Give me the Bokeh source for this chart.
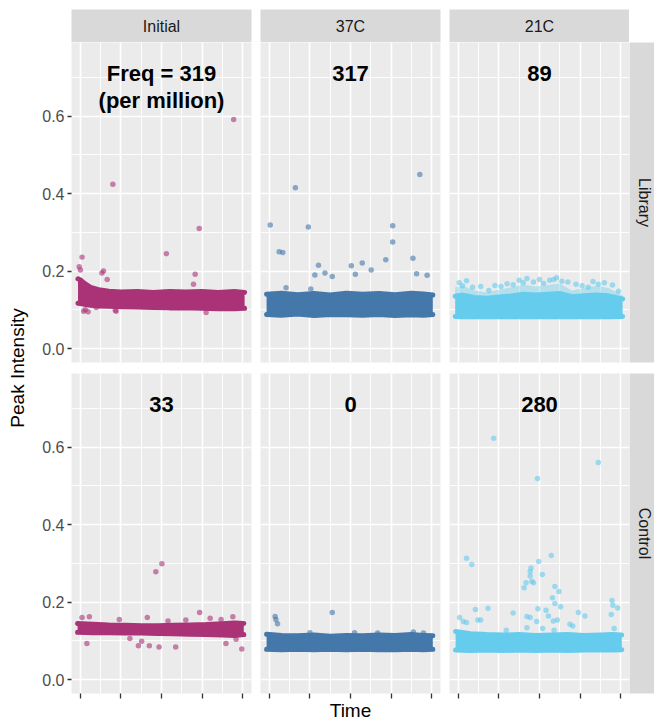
import math
from bokeh.plotting import figure
from bokeh.layouts import row, column, Spacer
from bokeh.models import Range1d, FixedTicker, Title, PrintfTickFormatter
from bokeh.core.properties import value
from bokeh.embed import file_html
from bokeh.resources import INLINE

# ---------------- data ----------------
conditions = ["Initial", "37C", "21C"]
samples = ["Library", "Control"]
cond_colors = ["#AA3377", "#4477AA", "#66CCEE"]

freq_text = [["Freq = 319\n(per million)", "317", "89"],
             ["33", "0", "280"]]
freq_x = 2.0
freq_y = 0.71

y_ticks = [0.0, 0.2, 0.4, 0.6]
y_minor = [0.1, 0.3, 0.5, 0.7]
x_ticks = [0, 1, 2, 3, 4]
x_minor = [0.5, 1.5, 2.5, 3.5]

# dense band envelopes (centre of the outermost points)
lib_init_x = [-0.06, 0.0, 0.1, 0.25, 0.45, 0.7, 1.0, 1.4, 1.8, 2.2, 2.6, 3.0, 3.4, 3.8, 4.05]
lib_init_hi = [0.180, 0.177, 0.168, 0.158, 0.152, 0.148, 0.146, 0.147, 0.145, 0.147, 0.146, 0.147, 0.145, 0.147, 0.145]
lib_init_lo = [0.117, 0.116, 0.114, 0.112, 0.110, 0.109, 0.108, 0.107, 0.106, 0.105, 0.105, 0.104, 0.103, 0.103, 0.104]

lib_37_x = [-0.07, 0.3, 0.7, 1.1, 1.5, 1.9, 2.3, 2.7, 3.1, 3.5, 3.8, 4.03]
lib_37_hi = [0.140, 0.143, 0.139, 0.142, 0.138, 0.143, 0.140, 0.142, 0.139, 0.143, 0.141, 0.138]
lib_37_lo = [0.088, 0.086, 0.089, 0.085, 0.088, 0.087, 0.086, 0.088, 0.085, 0.087, 0.086, 0.088]

lib_21_x = [-0.08, 0.1, 0.4, 0.7, 1.0, 1.3, 1.6, 1.9, 2.2, 2.5, 2.8, 3.1, 3.4, 3.7, 4.05]
lib_21_fringe = [0.158, 0.162, 0.150, 0.145, 0.152, 0.158, 0.165, 0.160, 0.164, 0.168, 0.150, 0.156, 0.162, 0.156, 0.138]
lib_21_hi = [0.135, 0.138, 0.132, 0.130, 0.133, 0.136, 0.140, 0.138, 0.140, 0.142, 0.134, 0.136, 0.138, 0.136, 0.128]
lib_21_lo = [0.083, 0.082, 0.082, 0.082, 0.082, 0.082, 0.082, 0.082, 0.082, 0.082, 0.082, 0.082, 0.082, 0.082, 0.083]

ctl_init_x = [-0.07, 0.3, 0.7, 1.1, 1.5, 1.9, 2.3, 2.7, 3.1, 3.5, 3.8, 4.03]
ctl_init_hi = [0.145, 0.143, 0.141, 0.140, 0.139, 0.139, 0.140, 0.141, 0.142, 0.144, 0.146, 0.145]
ctl_init_lo = [0.122, 0.121, 0.121, 0.120, 0.120, 0.119, 0.118, 0.117, 0.116, 0.115, 0.114, 0.116]

ctl_37_x = [-0.07, 0.3, 0.7, 1.1, 1.5, 1.9, 2.3, 2.7, 3.1, 3.5, 3.8, 4.03]
ctl_37_hi = [0.117, 0.114, 0.113, 0.115, 0.112, 0.114, 0.113, 0.115, 0.114, 0.116, 0.114, 0.113]
ctl_37_lo = [0.078, 0.077, 0.078, 0.077, 0.078, 0.077, 0.078, 0.077, 0.077, 0.078, 0.077, 0.078]

ctl_21_x = [-0.07, 0.3, 0.7, 1.1, 1.5, 1.9, 2.3, 2.7, 3.1, 3.5, 3.8, 4.03]
ctl_21_hi = [0.124, 0.118, 0.116, 0.115, 0.116, 0.114, 0.115, 0.116, 0.114, 0.115, 0.116, 0.115]
ctl_21_lo = [0.076, 0.075, 0.076, 0.075, 0.076, 0.075, 0.076, 0.075, 0.076, 0.077, 0.076, 0.077]

# individual points outside the dense band
lib_init_pt_x = [3.78, 0.80, 2.93, 2.12, 2.83, 2.79, 0.04, -0.03, 0.0, 0.53, 0.57, 0.66, 0.12, 0.19, 0.86, 0.08, 0.39, 0.88, 3.10]
lib_init_pt_y = [0.591, 0.424, 0.310, 0.245, 0.192, 0.166, 0.236, 0.211, 0.203, 0.195, 0.200, 0.178, 0.100, 0.095, 0.099, 0.096, 0.106, 0.096, 0.093]

lib_37_pt_x = [0.64, 3.71, 0.02, 0.96, 0.24, 0.33, 3.04, 3.04, 1.21, 1.12, 1.37, 1.55, 2.02, 2.12, 2.29, 2.51, 2.87, 3.54, 3.63, 3.89, 0.41, 1.02]
lib_37_pt_y = [0.415, 0.449, 0.319, 0.314, 0.250, 0.248, 0.317, 0.275, 0.215, 0.190, 0.195, 0.186, 0.214, 0.192, 0.221, 0.203, 0.229, 0.233, 0.193, 0.189, 0.157, 0.154]

lib_21_pt_x = [0.20, 1.69, 2.42, 1.20, 3.32, 0.02, 1.50, 2.90, 3.60, 3.95, 2.00, 0.90, 2.70, 0.55, 2.25,
               0.35, 0.75, 1.05, 1.35, 1.85, 2.10, 2.55, 3.05, 3.45, 3.80, 0.10, 1.60, 2.35, 3.20]
lib_21_pt_y = [0.175, 0.181, 0.183, 0.167, 0.173, 0.170, 0.176, 0.166, 0.170, 0.148, 0.178, 0.163, 0.172, 0.160, 0.176,
               0.158, 0.150, 0.160, 0.165, 0.172, 0.168, 0.174, 0.162, 0.166, 0.164, 0.162, 0.170, 0.178, 0.158]

ctl_init_pt_x = [1.86, 2.01, 2.94, 0.04, 0.22, 0.96, 1.65, 2.16, 0.16, 1.43, 1.70, 1.94, 2.35, 1.51, 3.59, 3.98, 3.76, 3.47, 3.84, 1.22, 3.20, 2.60]
ctl_init_pt_y = [0.278, 0.299, 0.173, 0.160, 0.162, 0.155, 0.160, 0.151, 0.093, 0.087, 0.087, 0.084, 0.084, 0.099, 0.093, 0.079, 0.162, 0.155, 0.104, 0.106, 0.158, 0.154]

ctl_37_pt_x = [1.55, 0.14, 0.16, 0.20, 2.67, 3.55, 3.80, 1.00, 2.10]
ctl_37_pt_y = [0.173, 0.163, 0.155, 0.144, 0.120, 0.123, 0.120, 0.121, 0.121]

ctl_21_pt_x = [0.87, 3.45, 1.95, 0.20, 0.33, 2.29, 1.98, 1.79, 1.77, 2.07, 1.77, 1.67, 1.81, 1.85, 1.62, 2.38, 2.48,
               2.32, 2.38, 2.52, 3.79, 3.81, 3.93, 3.77, 3.84, 0.42, 0.73, 1.35, 1.69, 1.77, 1.96, 2.16, 1.93, 2.22,
               2.34, 2.44, 2.96, 3.12, 0.03, 0.12, 0.20, 0.48, 0.55, 2.75, 2.82, 2.08, 2.36, 1.18, 1.69]
ctl_21_pt_y = [0.623, 0.560, 0.519, 0.313, 0.297, 0.320, 0.305, 0.288, 0.279, 0.271, 0.267, 0.250, 0.254, 0.250, 0.237,
               0.240, 0.227, 0.211, 0.196, 0.188, 0.204, 0.192, 0.185, 0.168, 0.132, 0.181, 0.184, 0.172, 0.163, 0.160,
               0.183, 0.179, 0.150, 0.164, 0.151, 0.154, 0.173, 0.164, 0.160, 0.150, 0.147, 0.154, 0.154, 0.143, 0.138,
               0.132, 0.127, 0.127, 0.134]

bands = [
    [(lib_init_x, lib_init_lo, lib_init_hi, None), (lib_37_x, lib_37_lo, lib_37_hi, None), (lib_21_x, lib_21_lo, lib_21_hi, lib_21_fringe)],
    [(ctl_init_x, ctl_init_lo, ctl_init_hi, None), (ctl_37_x, ctl_37_lo, ctl_37_hi, None), (ctl_21_x, ctl_21_lo, ctl_21_hi, None)],
]
points = [
    [(lib_init_pt_x, lib_init_pt_y), (lib_37_pt_x, lib_37_pt_y), (lib_21_pt_x, lib_21_pt_y)],
    [(ctl_init_pt_x, ctl_init_pt_y), (ctl_37_pt_x, ctl_37_pt_y), (ctl_21_pt_x, ctl_21_pt_y)],
]

# ---------------- styling / layout ----------------
FONT = "Liberation Sans"
PANEL_BG = "#EBEBEB"
STRIP_BG = "#D9D9D9"
FW, FH = 180, 320
LEFT = [35, 5, 5]
RIGHT = [4, 4, 0]
TOP = [0, 6]
BOTTOM = [5, 26]


def base_fig(**kw):
    return figure(output_backend="svg", toolbar_location=None, **kw)


def make_panel(ri, ci):
    p = base_fig(frame_width=FW, frame_height=FH,
                 x_range=Range1d(-0.22, 4.22), y_range=Range1d(-0.036, 0.79),
                 min_border_left=LEFT[ci], min_border_right=RIGHT[ci],
                 min_border_top=TOP[ri], min_border_bottom=BOTTOM[ri],
                 x_axis_location="below" if ri == 1 else None,
                 y_axis_location="left" if ci == 0 else None)
    p.background_fill_color = PANEL_BG
    p.border_fill_color = "white"
    p.outline_line_color = None
    p.xgrid.ticker = FixedTicker(ticks=x_ticks, minor_ticks=x_minor)
    p.ygrid.ticker = FixedTicker(ticks=y_ticks, minor_ticks=y_minor)
    for g in (p.xgrid, p.ygrid):
        g.grid_line_color = "white"
        g.grid_line_width = 1.6
        g.minor_grid_line_color = "white"
        g.minor_grid_line_width = 0.9
    if ci == 0:
        ax = p.yaxis[0]
        ax.ticker = FixedTicker(ticks=y_ticks)
        ax.formatter = PrintfTickFormatter(format="%.1f")
        ax.major_label_text_font = FONT
        ax.major_label_text_font_size = "16px"
        ax.major_label_text_color = "#4D4D4D"
        ax.major_tick_out = 4
        ax.major_tick_in = 0
        ax.major_tick_line_color = "#333333"
        ax.major_tick_line_width = 1.3
        ax.minor_tick_line_color = None
        ax.axis_line_color = None
        ax.major_label_standoff = 3
    if ri == 1:
        ax = p.xaxis[0]
        ax.ticker = FixedTicker(ticks=x_ticks)
        ax.major_label_text_font_size = "1px"
        ax.major_label_text_color = None
        ax.major_label_standoff = 0
        ax.major_tick_out = 5
        ax.major_tick_in = 0
        ax.major_tick_line_color = "#333333"
        ax.major_tick_line_width = 1.3
        ax.minor_tick_line_color = None
        ax.axis_line_color = None
        if ci == 1:
            ax.axis_label = "Time"
            ax.axis_label_text_font = FONT
            ax.axis_label_text_font_size = "19px"
            ax.axis_label_text_font_style = "normal"
            ax.axis_label_text_color = "black"
            ax.axis_label_standoff = 1

    col = cond_colors[ci]
    bx, lo, hi, fringe = bands[ri][ci]
    if fringe is not None:
        p.varea(x=bx, y1=hi, y2=fringe, fill_color=col, fill_alpha=0.4)
    p.varea(x=bx, y1=lo, y2=hi, fill_color=col, fill_alpha=1.0)
    p.line(bx, hi, line_color=col, line_width=5, line_join="round", line_cap="round")
    p.line(bx, lo, line_color=col, line_width=5, line_join="round", line_cap="round")
    px, py = points[ri][ci]
    p.scatter(px, py, size=5.5, fill_color=col, fill_alpha=0.6, line_color=None)

    lines = freq_text[ri][ci].split("\n")
    for k, txt in enumerate(lines):
        p.text(x=[freq_x], y=[freq_y], text=[txt], y_offset=27 * k, text_align="center", text_baseline="middle",
               text_font=value(FONT), text_font_size="22px", text_font_style="bold", text_color="black")
    return p


def strip_top(ci):
    s = base_fig(frame_width=FW, frame_height=33, x_range=Range1d(0, 1), y_range=Range1d(0, 1),
                 min_border_left=LEFT[ci], min_border_right=RIGHT[ci], min_border_top=9, min_border_bottom=0,
                 x_axis_location=None, y_axis_location=None)
    s.grid.visible = False
    s.background_fill_color = STRIP_BG
    s.border_fill_color = "white"
    s.outline_line_color = None
    s.text(x=[0.5], y=[0.5], text=[conditions[ci]], text_align="center", text_baseline="middle",
           text_font=value(FONT), text_font_size="16px", text_color="#1A1A1A")
    return s


def strip_right(ri):
    s = base_fig(frame_width=25, frame_height=FH, x_range=Range1d(0, 1), y_range=Range1d(0, 1),
                 min_border_left=0, min_border_right=0, min_border_top=TOP[ri], min_border_bottom=BOTTOM[ri],
                 x_axis_location=None, y_axis_location=None)
    s.grid.visible = False
    s.background_fill_color = STRIP_BG
    s.border_fill_color = "white"
    s.outline_line_color = None
    s.text(x=[0.6], y=[0.5], text=[samples[ri]], text_align="center", text_baseline="middle",
           angle=-math.pi / 2, text_font=value(FONT), text_font_size="16px", text_color="#1A1A1A")
    return s


lab = base_fig(width=36, height=719, min_border_left=0, min_border_right=0,
               min_border_top=42, min_border_bottom=26, x_axis_location=None, y_axis_location=None)
lab.grid.visible = False
lab.outline_line_color = None
lab.background_fill_color = "white"
lab.add_layout(Title(text="Peak Intensity", align="center", text_font=FONT, text_font_size="19px",
                     text_font_style="normal", text_color="black", standoff=17), "left")

strips = row(strip_top(0), strip_top(1), strip_top(2), Spacer(width=25, height=42))
row1 = row(make_panel(0, 0), make_panel(0, 1), make_panel(0, 2), strip_right(0))
row2 = row(make_panel(1, 0), make_panel(1, 1), make_panel(1, 2), strip_right(1))
layout = row(lab, column(strips, row1, row2))

open("out.html", "w").write(file_html(layout, INLINE))
